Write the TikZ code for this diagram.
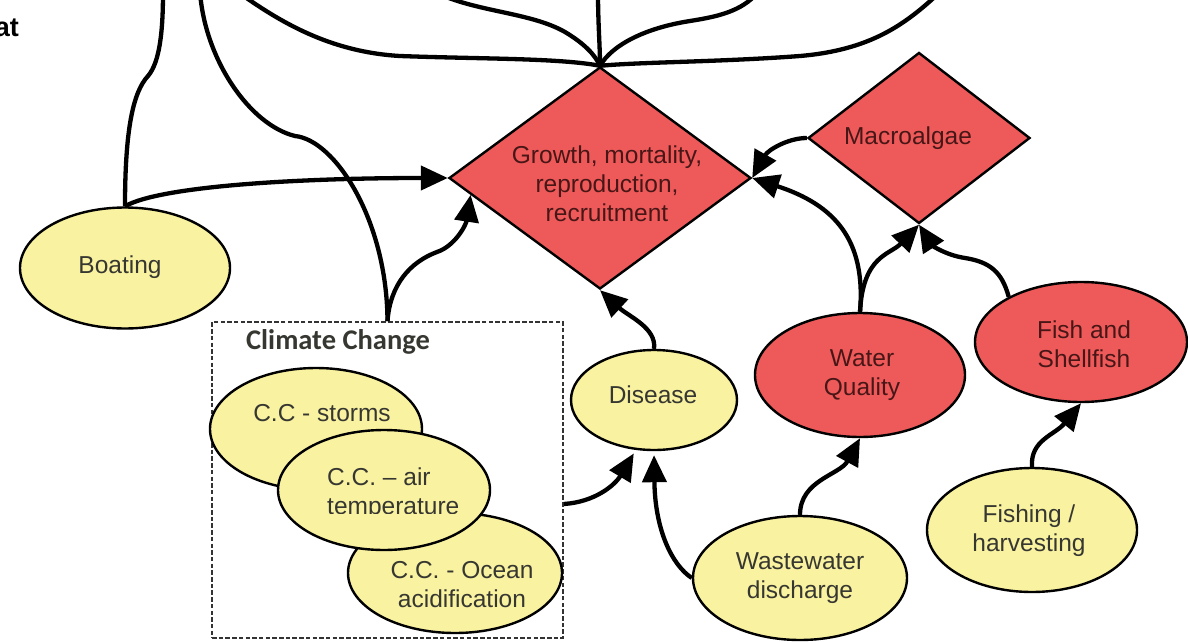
\documentclass[tikz,border=0pt]{standalone}
\usepackage{fontspec}
\setmainfont{Liberation Sans}
\newfontfamily\titlefont{Carlito}
\usetikzlibrary{shapes.geometric,arrows.meta,calc}

\definecolor{nodered}{RGB}{238,90,90}
\definecolor{nodeyellow}{RGB}{249,242,160}
\definecolor{redtext}{RGB}{72,22,22}
\definecolor{graytext}{RGB}{55,55,50}

\tikzset{
  shapebase/.style={draw=black, line width=2.4pt, inner sep=0pt},
  yell/.style={shapebase, ellipse, fill=nodeyellow},
  redell/.style={shapebase, ellipse, fill=nodered},
  reddia/.style={shapebase, diamond, fill=nodered},
  txt/.style={font=\fontsize{24.5}{29}\selectfont, align=center, inner sep=0pt, text=graytext},
  redtxt/.style={txt, text=redtext},
  link/.style={line width=4.3pt, -{Triangle[length=27pt,width=24pt]}},
  plain/.style={line width=4.3pt},
}

\begin{document}
\begin{tikzpicture}[x=1pt,y=-1pt]
\fill[white] (0,0) rectangle (1188,642);
\useasboundingbox (0,0) rectangle (1188,642);

% heading running off the left edge
\node[font=\bfseries\fontsize{27}{30}\selectfont, anchor=base east, inner sep=0pt] (hab) at (19,37) {at};

% diamonds
\node[reddia, minimum width=302pt, minimum height=222pt] (grow) at (600,178) {};
\node[reddia, minimum width=222pt, minimum height=171pt] (mac) at (919,138) {};

% ellipses and the climate-change group
\node[yell, minimum width=210pt, minimum height=121pt] (boat) at (125,268) {};
\node[draw=black!80, line width=1.7pt, dash pattern=on 4.5pt off 2.2pt, minimum width=351pt, minimum height=316pt, inner sep=0pt] (cc) at (387.5,480) {};
\node[yell, minimum width=212pt, minimum height=122pt] (ccs) at (316,429) {};
\node[yell, minimum width=214pt, minimum height=120pt] (cco) at (455,573) {};
\node[yell, minimum width=212pt, minimum height=120pt] (cca) at (384,490) {};
\node[yell, minimum width=166pt, minimum height=100pt] (dis) at (654,400) {};
\node[redell, minimum width=210pt, minimum height=124pt] (wq) at (860,375) {};
\node[redell, minimum width=212pt, minimum height=120pt] (fish) at (1081,342) {};
\node[yell, minimum width=210pt, minimum height=124pt] (fshg) at (1032,530) {};
\node[yell, minimum width=214pt, minimum height=124pt] (ww) at (800,578) {};

% labels
\node[redtxt] (growtxt) at (607,184) {Growth, mortality,\\reproduction,\\recruitment};
\node[redtxt] (mactxt) at (908,138) {Macroalgae};
\node[txt] (boattxt) at (120,267) {Boating};
\node[font=\titlefont\bfseries\fontsize{28.5}{32}\selectfont, text=graytext, inner sep=0pt] (cctitle) at (338,342) {Climate Change};
\node[txt] (ccstxt) at (322,413) {C.C - storms};
\begin{scope}
  \clip (300,440) rectangle (500,513);
  \node[txt, align=left, anchor=west] (ccatxt) at (327,494) {C.C. – air\\temperature};
\end{scope}
\node[txt] (ccotxt) at (462,585) {C.C. - Ocean\\acidification};
\node[txt] (distxt) at (653,395) {Disease};
\node[redtxt] (wqtxt) at (862,375) {Water\\Quality};
\node[redtxt] (fishtxt) at (1084,344) {Fish and\\Shellfish};
\node[txt] (fshgtxt) at (1029,531) {Fishing /\\harvesting};
\node[txt] (wwtxt) at (800,578) {Wastewater\\discharge};

% loose ends leaving the top edge
\coordinate (tA) at (163,-8);
\coordinate (tB) at (200,-8);
\coordinate (tC) at (238,-8);
\coordinate (tD) at (435,-8);
\coordinate (tE) at (598,-8);
\coordinate (tF) at (758,-8);
\coordinate (tG) at (940,-8);

\draw[plain] (tA) .. controls (163,30) and (160,62) .. (148,76) .. controls (133,92) and (125,130) .. (boat.north);
\draw[plain] (tB) .. controls (205,60) and (250,125) .. (295,136) .. controls (335,140) and (387,220) .. (cc.north);
\draw[plain] (tC) .. controls (280,22) and (330,52) .. (400,56) .. controls (480,59) and (560,58) .. (grow.north);
\draw[plain] (tD) .. controls (475,12) and (530,12) .. (565,32) .. controls (585,44) and (595,55) .. (grow.north);
\draw[plain] (tE) .. controls (598,25) and (600,45) .. (grow.north);
\draw[plain] (tF) .. controls (742,12) and (715,17) .. (690,21) .. controls (645,28) and (612,45) .. (grow.north);
\draw[plain] (tG) .. controls (905,25) and (870,50) .. (800,56) .. controls (720,62) and (640,62) .. (grow.north);

% influences
\draw[link] (boat.north) .. controls (160,186) and (300,178) .. (grow.west);
\draw[link] (cc.north) .. controls (390,285) and (410,262) .. (437,252) .. controls (455,246) and (466,225) .. ($(grow.west)!0.15!(grow.south)$);
\draw[link] (dis.north) .. controls (657,328) and (628,316) .. (grow.south);
\draw[link] (mac.west) .. controls (788,138) and (768,150) .. (grow.east);
\draw[link] (wq.north) .. controls (866,240) and (835,205) .. (grow.east);
\draw[link] (wq.north) .. controls (863,255) and (890,255) .. (mac.south);
\draw[link] (fish.148) .. controls (1002,272) and (990,262) .. (965,258) .. controls (945,255) and (932,245) .. (mac.south);
\draw[link] (fshg.north) .. controls (1030,440) and (1055,435) .. (fish.south);
\draw[link] (ww.north) .. controls (800,480) and (840,475) .. (wq.south);
\draw[link, shorten >=4pt] (ww.west) .. controls (672,565) and (655,530) .. (dis.south);
\draw[link, shorten >=4pt] ([yshift=-24pt]cc.east) .. controls (595,502) and (615,485) .. (dis.250);
\end{tikzpicture}
\end{document}
